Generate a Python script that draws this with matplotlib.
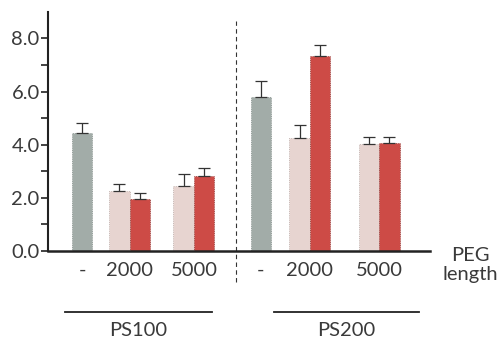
import matplotlib
matplotlib.use('Agg')
import matplotlib.pyplot as plt
import numpy as np

plt.rcParams['font.family'] = ['Lato', 'DejaVu Sans']

# data
peg_labels = ["-", "2000", "5000", "-", "2000", "5000"]
groups = ["PS100", "PS200"]
plain_vals = [4.45, 5.80]          # grey bars, no PEG
plain_err = [0.38, 0.58]
pink_vals = [2.27, 2.45, 4.24, 4.02]   # PS100-2000, PS100-5000, PS200-2000, PS200-5000
pink_err = [0.25, 0.45, 0.50, 0.27]
red_vals = [1.94, 2.82, 7.33, 4.05]
red_err = [0.24, 0.30, 0.42, 0.24]

# layout
cat_pos = np.array([3.4, 8.15, 14.6, 21.3, 26.2, 33.1])
w = 2.05
grey_c, pink_c, red_c = '#a2aca8', '#e7d4d0', '#cd4b46'
fs = 14.5
tcol = '#3a3a3a'

fig = plt.figure(figsize=(5.0, 3.39), dpi=100)
ax = fig.add_axes([0.096, 0.26, 0.764, 0.705])

plain_x = cat_pos[[0, 3]]
pair_x = cat_pos[[1, 2, 4, 5]]
ekw = dict(fmt='none', ecolor='#333333', elinewidth=0.9, capsize=4, capthick=0.9)

ax.bar(plain_x, plain_vals, width=w, color=grey_c, edgecolor='#7f8a86', linewidth=0.6, linestyle=':')
ax.bar(pair_x - w / 2, pink_vals, width=w, color=pink_c, edgecolor='#b8a8a4', linewidth=0.6, linestyle=':')
ax.bar(pair_x + w / 2, red_vals, width=w, color=red_c, edgecolor='#8a3a36', linewidth=0.6, linestyle=':')
ax.errorbar(plain_x, plain_vals, yerr=[np.zeros(2), plain_err], **ekw)
ax.errorbar(pair_x - w / 2, pink_vals, yerr=[np.zeros(4), pink_err], **ekw)
ax.errorbar(pair_x + w / 2, red_vals, yerr=[np.zeros(4), red_err], **ekw)

ax.set_xlim(0, 38.2)
ax.set_ylim(0, 9)
ax.set_yticks([0, 2, 4, 6, 8])
ax.set_yticklabels(["0.0", "2.0", "4.0", "6.0", "8.0"], fontsize=fs, color=tcol)
ax.set_yticks([1, 3, 5, 7], minor=True)
ax.tick_params(axis='y', which='major', length=5, width=1.2, color='#222222', pad=1)
ax.tick_params(axis='y', which='minor', length=5, width=1.2, color='#222222')
ax.set_xticks(cat_pos)
ax.set_xticklabels(peg_labels, fontsize=fs, color=tcol)
ax.tick_params(axis='x', length=0, pad=8)

for s in ['top', 'right']:
    ax.spines[s].set_visible(False)
ax.spines['left'].set_linewidth(1.5)
ax.spines['bottom'].set_linewidth(1.8)
ax.spines['left'].set_color('#222222')
ax.spines['bottom'].set_color('#222222')

# dashed separator between the two groups
ax.plot([18.8, 18.8], [-0.13, 0.96], transform=ax.get_xaxis_transform(), clip_on=False,
        color='#333333', lw=0.8, ls=(0, (4, 3)))

ax.text(42.2, -0.06, "PEG\nlength", transform=ax.get_xaxis_transform(), ha='center', va='center',
        fontsize=fs, color=tcol, linespacing=1.15)

# group brackets
for g, (x0, x1) in zip(groups, [(1.7, 16.4), (22.6, 37.1)]):
    ax.plot([x0, x1], [-0.254, -0.254], transform=ax.get_xaxis_transform(), clip_on=False,
            color='#222222', lw=1.3)
    ax.text((x0 + x1) / 2, -0.335, g, transform=ax.get_xaxis_transform(), ha='center', va='center',
            fontsize=fs, color=tcol)

fig.savefig('out.png', dpi=100)
